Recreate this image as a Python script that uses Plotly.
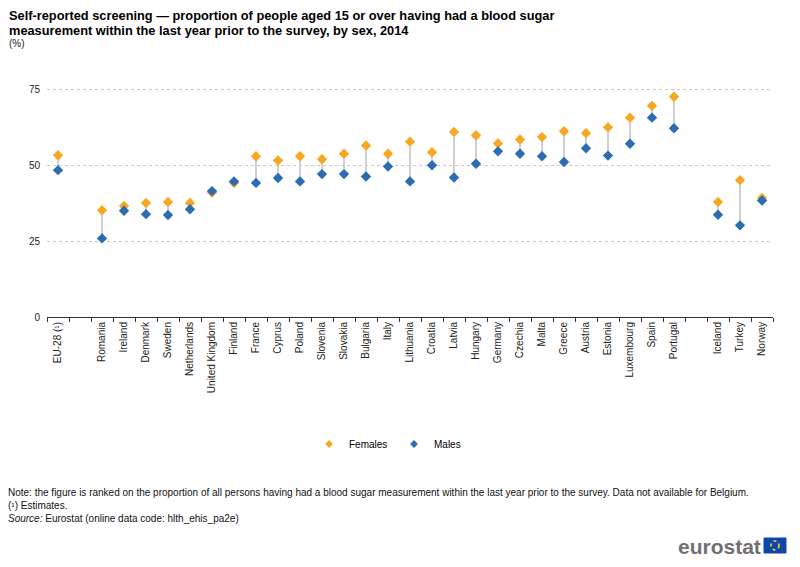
import plotly.graph_objects as go

# categories in chart order ("" marks an empty gap slot)
countries = ["EU-28 (¹)", "", "Romania", "Ireland", "Denmark", "Sweden", "Netherlands",
             "United Kingdom", "Finland", "France", "Cyprus", "Poland", "Slovenia",
             "Slovakia", "Bulgaria", "Italy", "Lithuania", "Croatia", "Latvia", "Hungary",
             "Germany", "Czechia", "Malta", "Greece", "Austria", "Estonia", "Luxembourg",
             "Spain", "Portugal", "", "Iceland", "Turkey", "Norway"]

females = [53.3, None, 35.2, 36.6, 37.6, 37.9, 37.6, 41.0, 44.2, 53.0, 51.6, 53.0, 52.0,
           53.8, 56.5, 53.8, 57.8, 54.3, 61.0, 59.9, 57.2, 58.5, 59.3, 61.2, 60.6, 62.5,
           65.7, 69.6, 72.6, None, 37.9, 45.1, 39.2]

males = [48.4, None, 25.9, 35.0, 33.9, 33.6, 35.5, 41.5, 44.7, 44.2, 45.8, 44.7, 47.1,
         47.1, 46.3, 49.6, 44.7, 50.0, 46.0, 50.5, 54.6, 53.8, 53.0, 51.1, 55.6, 53.2,
         57.1, 65.7, 62.2, None, 33.7, 30.2, 38.4]

# unique names for the blank slots so the category axis keeps them
cats = []
blank = 0
for c in countries:
    if c == "":
        blank += 1
        c = " " * blank
    cats.append(c)

orange = "#F7A823"
blue = "#2B6CB3"

# grey connectors between the two values
lx, ly = [], []
for c, f, m in zip(cats, females, males):
    if f is None:
        continue
    lx += [c, c, None]
    ly += [f, m, None]

fig = go.Figure()
fig.add_trace(go.Scatter(x=lx, y=ly, mode="lines", line=dict(color="#d0d0d0", width=2),
                         showlegend=False, hoverinfo="skip"))
fig.add_trace(go.Scatter(x=cats, y=females, mode="markers", name="Females", showlegend=False,
                         marker=dict(symbol="diamond", size=8, color=orange)))
fig.add_trace(go.Scatter(x=cats, y=males, mode="markers", name="Males", showlegend=False,
                         marker=dict(symbol="diamond", size=8, color=blue)))
# legend entries with the small symbols of the original
for name, col in [("Females", orange), ("Males", blue)]:
    fig.add_trace(go.Scatter(x=[None], y=[None], mode="markers", name=name,
                             marker=dict(symbol="diamond", size=6, color=col)))

# page body adds an 8px margin, so the figure is 8px smaller and shifted
OFF = 8
W, H = 800 - OFF, 567 - OFF
L, R, T, B = 39, 27, 42, 250
pw, ph = W - L - R, H - T - B


def px(x):
    return (x - OFF - L) / pw


def py(y):
    return (H - B - (y - OFF)) / ph


fig.update_layout(
    width=W, height=H,
    margin=dict(l=L, r=R, t=T, b=B, autoexpand=False),
    paper_bgcolor="white", plot_bgcolor="white",
    font=dict(family="Liberation Sans, Arial, sans-serif", size=10, color="#222"),
    legend=dict(orientation="h", x=px(394), xanchor="center", y=py(444), yanchor="middle",
                font=dict(size=10, color="#000"), itemwidth=30, traceorder="normal",
                entrywidth=40, entrywidthmode="pixels"),
    showlegend=True,
)

fig.update_xaxes(type="category", categoryorder="array", categoryarray=cats, automargin=False,
                 tickangle=-90, showline=True, linecolor="#333", linewidth=1,
                 ticks="outside", ticklen=4, tickcolor="#333", tickson="boundaries",
                 showgrid=False, tickfont=dict(size=10, color="#222"), range=[-0.5, len(cats) - 0.5])
fig.update_yaxes(range=[0, 88], tickvals=[0, 25, 50, 75], showgrid=True, automargin=False,
                 gridcolor="#c8c8c8", griddash="dot", gridwidth=1, zeroline=False,
                 showline=False, ticks="", ticklabelstandoff=6, tickfont=dict(size=10, color="#222"))

title_lines = ["Self-reported screening — proportion of people aged 15 or over having had a blood sugar",
               "measurement within the last year prior to the survey, by sex, 2014"]
for i, line in enumerate(title_lines):
    fig.add_annotation(text="<b>" + line + "</b>", xref="paper", yref="paper",
                       x=px(7), y=py(16 + 14 * i), xanchor="left", yanchor="middle",
                       showarrow=False, font=dict(size=12.8, color="#000"))
fig.add_annotation(text="(%)", xref="paper", yref="paper", x=px(7), y=py(44),
                   xanchor="left", yanchor="middle", showarrow=False, font=dict(size=10, color="#222"))

fig.add_annotation(
    text="Note: the figure is ranked on the proportion of all persons having had a blood sugar measurement within the last year prior to the survey. Data not available for Belgium.<br>"
         "(¹) Estimates.<br>"
         "<i>Source:</i> Eurostat (online data code: hlth_ehis_pa2e)",
    xref="paper", yref="paper", x=px(6), y=py(485), xanchor="left", yanchor="top",
    align="left", showarrow=False, font=dict(size=10, color="#111"))

# eurostat logo
fig.add_annotation(text="<b>eurostat</b>", xref="paper", yref="paper",
                   x=px(763), y=py(546), xanchor="right", yanchor="middle",
                   showarrow=False, font=dict(size=21, color="#707070"))
fig.add_shape(type="rect", xref="paper", yref="paper",
              x0=px(764), x1=px(786), y0=py(553), y1=py(538),
              fillcolor="#0E47A8", line=dict(color="#0E47A8", width=1))
fig.add_shape(type="circle", xref="paper", yref="paper",
              x0=px(771), x1=px(779), y0=py(550), y1=py(541),
              line=dict(color="#FFD617", width=1.5, dash="dot"))

fig.write_html("out.html")
